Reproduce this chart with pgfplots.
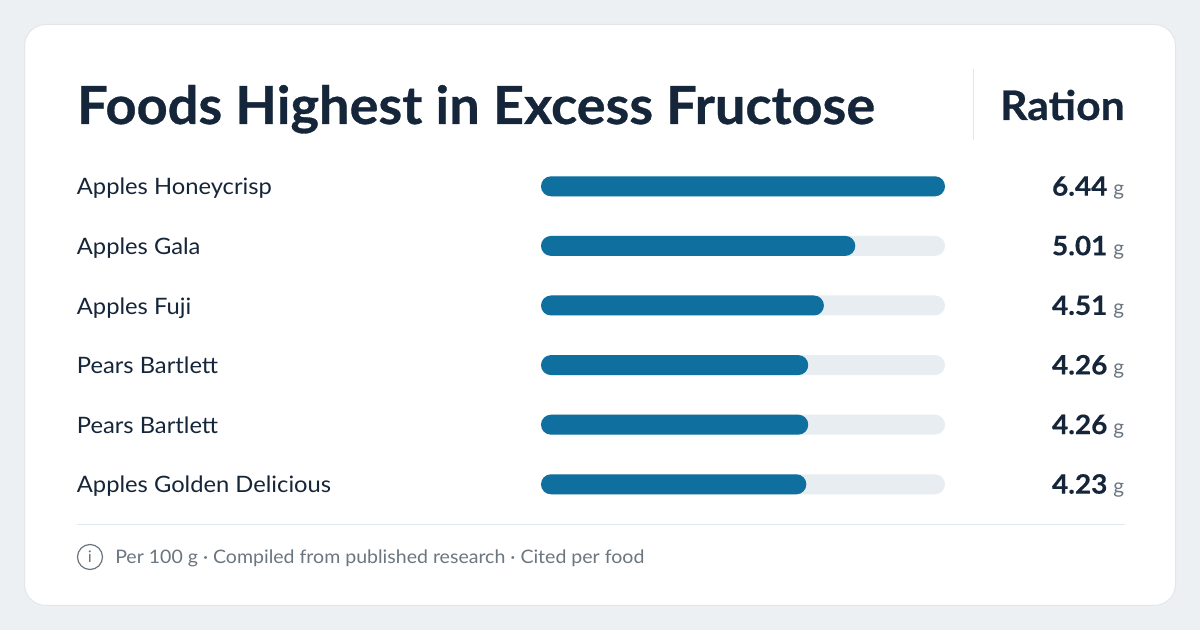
\documentclass[border=0pt]{standalone}
\usepackage{pgfplots}
\usepackage{pgfplotstable}
\usepackage{fontspec}
\pgfplotsset{compat=1.18}
\setmainfont[FakeStretch=1.05]{Lato}
\newfontfamily\headfont[FakeStretch=1.03,BoldFeatures={FakeStretch=1.03,FakeBold=0.6}]{Lato}
\newfontfamily\ratfont[BoldFeatures={FakeStretch=1.05,FakeBold=0.6}]{Lato}
\newfontfamily\valfont[BoldFeatures={FakeStretch=1.05,FakeBold=0.3}]{Lato}
\definecolor{bgc}{HTML}{ECF0F3}
\definecolor{cardb}{HTML}{E2E7EC}
\definecolor{ink}{HTML}{16263A}
\definecolor{barc}{HTML}{0F6F9F}
\definecolor{track}{HTML}{E8EDF2}
\definecolor{mute}{HTML}{6B7680}
\definecolor{rule}{HTML}{E2E7EC}
\pgfplotstableread{
row value full
0 6.44 6.44
1 5.01 6.44
2 4.51 6.44
3 4.26 6.44
4 4.26 6.44
5 4.23 6.44
}\datatable
\begin{document}
\begin{tikzpicture}[x=0.75pt,y=-0.75pt]
\fill[bgc] (0,0) rectangle (1200,630);
\filldraw[fill=white,draw=cardb,line width=0.75pt,rounded corners=16pt] (24.5,24.5) rectangle (1175.5,605.5);
\node[anchor=base west,inner sep=0,text=ink,font=\headfont\fontsize{39.4}{46}\selectfont\bfseries] at (77,124) {Foods Highest in Excess Fructose};
\node[anchor=base east,inner sep=0,text=ink,font=\ratfont\fontsize{30.5}{36}\selectfont\bfseries] at (1125,120) {Ration};
\draw[rule,line width=0.75pt] (973.5,69) -- (973.5,140);
\draw[rule,line width=0.75pt] (77,524.5) -- (1125,524.5);
\draw[mute,line width=0.9pt] (90,557) circle (12.5);
\node[text=mute,inner sep=0,font=\fontsize{12}{14}\selectfont] at (90,557) {i};
\node[anchor=base west,inner sep=0,text=mute,font=\fontsize{13.95}{16}\selectfont] at (115,564) {Per 100 g · Compiled from published research · Cited per food};
\coordinate (A) at (541,156.5);
\begin{axis}[
  at={(A)},anchor=north west,
  scale only axis,width=303pt,height=268.2pt,
  xmin=0,xmax=6.44,ymin=-0.5,ymax=5.5,y dir=reverse,
  axis line style={draw=none},
  tick style={draw=none},
  xtick=\empty,
  ytick={0,1,2,3,4,5},
  yticklabels={Apples Honeycrisp,Apples Gala,Apples Fuji,Pears Bartlett,Pears Bartlett,Apples Golden Delicious},
  yticklabel style={anchor=west,xshift=-347.3pt,yshift=-1.4pt,text height=13pt,text depth=3pt,text=ink,font=\fontsize{16.95}{20}\selectfont},
  xbar,bar width=15pt,bar shift=0pt,
  clip=false,
]
\addplot[fill=track,draw=none,rounded corners=7.5pt] table[x=full,y=row] {\datatable};
\addplot[fill=barc,draw=none,rounded corners=7.5pt] table[x=value,y=row] {\datatable};
\foreach \i/\v in {0/6.44,1/5.01,2/4.51,3/4.26,4/4.26,5/4.23}{
  \edef\tmp{\noexpand\node[anchor=base east,inner sep=0,text=ink] at (axis cs:9.30,\i) [yshift=-7pt] {\noexpand\valfont\noexpand\fontsize{20}{22}\noexpand\selectfont\noexpand\bfseries \v\noexpand\hspace{4.5pt}\noexpand\textcolor{mute}{\noexpand\fontsize{15.5}{16}\noexpand\selectfont\noexpand\mdseries g}};}
  \tmp
}
\end{axis}
\end{tikzpicture}
\end{document}
